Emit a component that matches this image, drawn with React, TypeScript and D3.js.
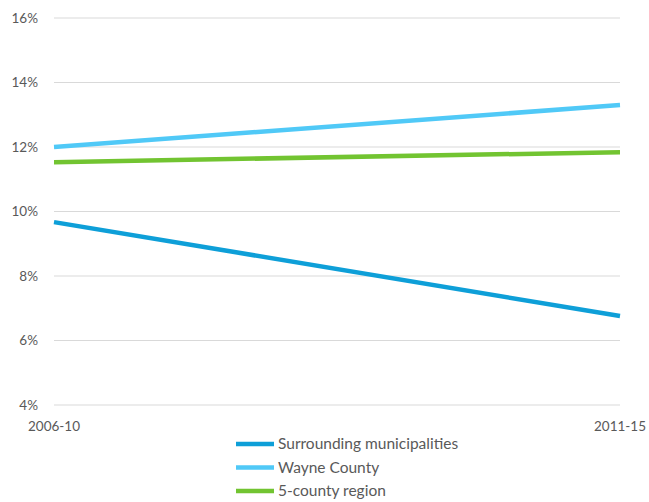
import React from "react";
import * as d3 from "d3";

const periods = ["2006-10", "2011-15"];
const seriesNames = ["Surrounding municipalities", "Wayne County", "5-county region"];
const surrounding = [9.67, 6.76];
const wayne = [12.0, 13.3];
const fiveCounty = [11.53, 11.84];
const yTicks = [4, 6, 8, 10, 12, 14, 16];
const colors = ["#0E9FD8", "#50C9F7", "#72C431"];

const W = 649;
const H = 502;

export default function App() {
  const x = d3.scalePoint<string>().domain(periods).range([54, 620]);
  const y = d3.scaleLinear().domain([4, 16]).range([405, 18]);
  const line = d3
    .line<number>()
    .x((_, i) => x(periods[i]) as number)
    .y((d) => y(d));
  const data = [surrounding, wayne, fiveCounty];
  const font = "Lato, 'Open Sans', sans-serif";

  return (
    <svg
      width={W}
      height={H}
      style={{ position: "absolute", left: 0, top: 0, background: "#fff" }}
      fontFamily={font}
    >
      {yTicks.map((t) => (
        <g key={t}>
          <line x1={54} x2={620} y1={y(t)} y2={y(t)} stroke="#D9D9D9" strokeWidth={1} />
          <text x={38} y={y(t)} dy="0.35em" textAnchor="end" fontSize={13.5} fill="#595959">
            {t}%
          </text>
        </g>
      ))}
      {periods.map((p) => (
        <text
          key={p}
          x={x(p) as number}
          y={431}
          textAnchor="middle"
          fontSize={13.5}
          fill="#595959"
        >
          {p}
        </text>
      ))}
      {data.map((d, i) => (
        <path
          key={seriesNames[i]}
          d={line(d) as string}
          fill="none"
          stroke={colors[i]}
          strokeWidth={4.5}
        />
      ))}
      {seriesNames.map((name, i) => {
        const ly = 444 + i * 23.5;
        return (
          <g key={name}>
            <line x1={236} x2={274} y1={ly} y2={ly} stroke={colors[i]} strokeWidth={4.5} />
            <text x={278} y={ly} dy="0.35em" fontSize={15.5} fill="#595959">
              {name}
            </text>
          </g>
        );
      })}
    </svg>
  );
}
